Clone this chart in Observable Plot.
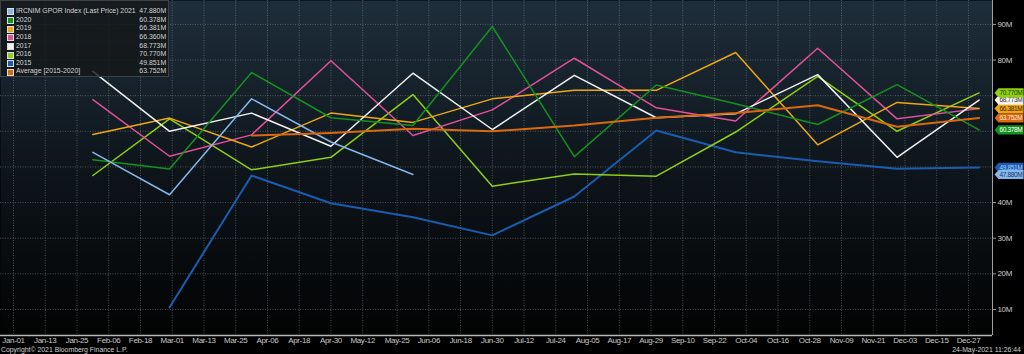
<!DOCTYPE html>
<html><head><meta charset="utf-8">
<script src="https://cdn.jsdelivr.net/npm/d3@7"></script>
<script src="https://cdn.jsdelivr.net/npm/@observablehq/plot@0.6"></script>
<style>
html,body{margin:0;padding:0;background:#000;}
#wrap{position:relative;width:1024px;height:354px;overflow:hidden;background:#000;
  font-family:"Liberation Sans",sans-serif;}
#legend{position:absolute;left:0;top:0;width:169px;height:77px;box-sizing:border-box;
  background:rgba(20,22,24,0.8);border:1px solid #3c4247;padding-top:6px;font-size:8px;color:#d4d4d4;}
.row{position:relative;height:8.65px;line-height:8.65px;white-space:nowrap;}
.sw{position:absolute;left:6px;top:1.3px;width:5px;height:5px;border:0.5px solid #ddd;}
.nm{position:absolute;left:15px;transform:scaleX(0.86);transform-origin:left center;}
.vl{position:absolute;right:2px;transform:scaleX(0.86);transform-origin:right center;}
#foot-l{position:absolute;left:1px;top:346px;font-size:8px;line-height:8px;color:#cfcfcf;transform:scaleX(0.86);transform-origin:left center;}
#foot-r{position:absolute;right:3px;top:346px;font-size:8px;line-height:8px;color:#cfcfcf;transform:scaleX(0.86);transform-origin:right center;}
#chart svg text{letter-spacing:-0.35px;}
#chart g[aria-label="tag"] text{letter-spacing:-0.3px;}
</style></head>
<body><div id="wrap"><div id="chart"></div><div id="legend"></div>
<div id="foot-l">Copyright© 2021 Bloomberg Finance L.P.</div>
<div id="foot-r">24-May-2021 11:26:44</div></div>
<script>
// ---- data ----
const months = ["2020-01-31","2020-02-29","2020-03-31","2020-04-30","2020-05-31","2020-06-30",
                "2020-07-31","2020-08-31","2020-09-30","2020-10-31","2020-11-30","2020-12-31"];
const s2021 = [54.1, 42.2, 69.1, 57.0, 47.88];
const s2020 = [52.0, 49.4, 76.5, 63.8, 61.6, 89.4, 52.9, 73.0, 67.7, 61.9, 73.1, 60.378];
const s2019 = [59.1, 63.7, 55.6, 65.1, 62.5, 69.1, 71.5, 71.5, 82.1, 56.2, 68.1, 66.381];
const s2018 = [68.9, 53.0, 59.0, 79.8, 58.8, 66.0, 80.5, 66.6, 62.9, 83.3, 63.5, 66.360];
const s2017 = [76.8, 60.0, 65.1, 55.8, 76.3, 60.5, 75.7, 63.8, 64.9, 75.9, 52.7, 68.773];
const s2016 = [47.6, 63.5, 49.2, 52.7, 70.3, 44.6, 48.0, 47.4, 59.8, 75.4, 60.0, 70.770];
const s2015 = [null, 10.6, 47.6, 39.8, 35.9, 30.8, 41.7, 60.2, 54.1, 51.6, 49.5, 49.851];
const sAvg  = [null, null, 58.8, 59.5, 60.7, 60.0, 61.6, 63.8, 65.1, 67.3, 61.3, 63.752];

const seriesNames = ["IRCNIM GPOR Index (Last Price) 2021","2020","2019","2018","2017","2016","2015","Average  [2015-2020]"];
const lastLabels  = ["47.880M","60.378M","66.381M","66.360M","68.773M","70.770M","49.851M","63.752M"];
const lastValues  = [47.880, 60.378, 66.381, 66.360, 68.773, 70.770, 49.851, 63.752];
const seriesColors = ["#86b6ea","#14921e","#eea612","#e2509a","#f2f2f2","#8fcf14","#1a5cb0","#d8690f"];
const tagText = ["#173a6e","#ffffff","#3a2600","#ffffff","#333333","#213d00","#a8ccff","#ffe8d8"];
const xTickLabels = ["Jan-01","Jan-13","Jan-25","Feb-06","Feb-18","Mar-01","Mar-13","Mar-25","Apr-06","Apr-18",
  "Apr-30","May-12","May-25","Jun-06","Jun-18","Jun-30","Jul-12","Jul-24","Aug-05","Aug-17","Aug-29",
  "Sep-10","Sep-22","Oct-04","Oct-16","Oct-28","Nov-09","Nov-21","Dec-03","Dec-15","Dec-27"];
const yTicks = [10,20,30,40,50,60,70,80,90];
// 50M, 60M and 70M are covered by the last-value tags in the reference
const yLabelTicks = [10,20,30,40,80,90];

// ---- build ----
const allSeries = [s2021,s2020,s2019,s2018,s2017,s2016,s2015,sAvg];
const parseM = d3.utcParse("%Y-%m-%d");
const dates = months.map(parseM);
const parseTick = d3.utcParse("%b-%d-%Y");
const xTicks = xTickLabels.map(s => parseTick(s + "-2020"));
const start = d3.utcHour.offset(parseM("2020-01-01"), -118);
const end = d3.utcHour.offset(parseM("2020-01-01"), 370*24 + 2);
const yDomain = [2.7, 96.7];

const rows = allSeries.map((vals, k) => vals.map((v, i) => ({date: dates[i], value: v, k})));

function defsMark() {
  const ns = "http://www.w3.org/2000/svg";
  const defs = document.createElementNS(ns, "defs");
  const g = document.createElementNS(ns, "linearGradient");
  g.setAttribute("id", "bggrad"); g.setAttribute("x1", "0"); g.setAttribute("y1", "0");
  g.setAttribute("x2", "0"); g.setAttribute("y2", "1");
  [["0","#1e2e3b"],["0.5","#0e151b"],["1","#020303"]].forEach(([o,c]) => {
    const s = document.createElementNS(ns, "stop");
    s.setAttribute("offset", o); s.setAttribute("stop-color", c); g.appendChild(s);
  });
  defs.appendChild(g);
  return defs;
}

const tagSymbol = {draw(ctx) {
  ctx.moveTo(2, 0); ctx.lineTo(6, -4.6); ctx.lineTo(31, -4.6); ctx.lineTo(31, 4.6);
  ctx.lineTo(6, 4.6); ctx.closePath();
}};

const drawOrder = [6, 5, 3, 2, 4, 1, 0, 7];
// the 2018 tag (66.360M) sits exactly under the 2019 tag in the reference, so it is not shown
const tagOrder = [2, 4, 5, 7, 1, 6, 0];
const fam = "Liberation Sans";

const marks = [
  defsMark,
  Plot.frame({fill: "url(#bggrad)", stroke: "none"}),
  Plot.gridX({ticks: xTicks, stroke: "#9aa4ad", strokeOpacity: 0.45, strokeDasharray: "1,1.5"}),
  Plot.gridY({ticks: yTicks, stroke: "#9aa4ad", strokeOpacity: 0.45, strokeDasharray: "1,1.5"}),
  Plot.axisX({ticks: xTicks, tickFormat: d3.utcFormat("%b-%d"), tickSize: 0, tickPadding: 2, label: null,
    fontSize: 8, fill: "#c8c8c8", fontFamily: fam}),
  Plot.axisY({anchor: "right", ticks: yLabelTicks, tickFormat: d => d + "M", tickSize: 3, tickPadding: 2, label: null,
    fontSize: 8, fill: "#c8c8c8", stroke: "#9a9a9a", fontFamily: fam}),
  Plot.ruleY([yDomain[0]], {stroke: "#b8b8b8", strokeWidth: 1.5}),
  Plot.ruleX([end], {stroke: "#a0a0a0", strokeWidth: 1}),
  ...drawOrder.map(k => Plot.line(rows[k].filter(d => d.value != null), {
    x: "date", y: "value", stroke: seriesColors[k], strokeWidth: k === 7 || k === 6 ? 2 : 1.5
  })),
  ...tagOrder.flatMap(k => [
    Plot.dot([lastValues[k]], {y: d => d, frameAnchor: "right", symbol: tagSymbol, fill: seriesColors[k], stroke: "none"}),
    Plot.text([lastLabels[k]], {y: () => lastValues[k], text: d => d, frameAnchor: "right", dx: 7,
      textAnchor: "start", fill: tagText[k], fontSize: 6.5, fontFamily: fam, ariaLabel: "tag"})
  ])
];

const chart = Plot.plot({
  width: 1024, height: 354,
  marginLeft: 0, marginRight: 32, marginTop: 0, marginBottom: 19,
  style: {background: "#000", color: "#c8c8c8", overflow: "visible"},
  x: {type: "utc", domain: [start, end], axis: null},
  y: {domain: yDomain, axis: null},
  marks
});
document.getElementById("chart").appendChild(chart);

// legend
const leg = document.getElementById("legend");
seriesNames.forEach((n, k) => {
  const r = document.createElement("div"); r.className = "row";
  r.innerHTML = `<span class="sw" style="background:${seriesColors[k]}"></span><span class="nm"></span><span class="vl"></span>`;
  r.querySelector(".nm").textContent = n;
  r.querySelector(".vl").textContent = lastLabels[k];
  leg.appendChild(r);
});
</script></body></html>
